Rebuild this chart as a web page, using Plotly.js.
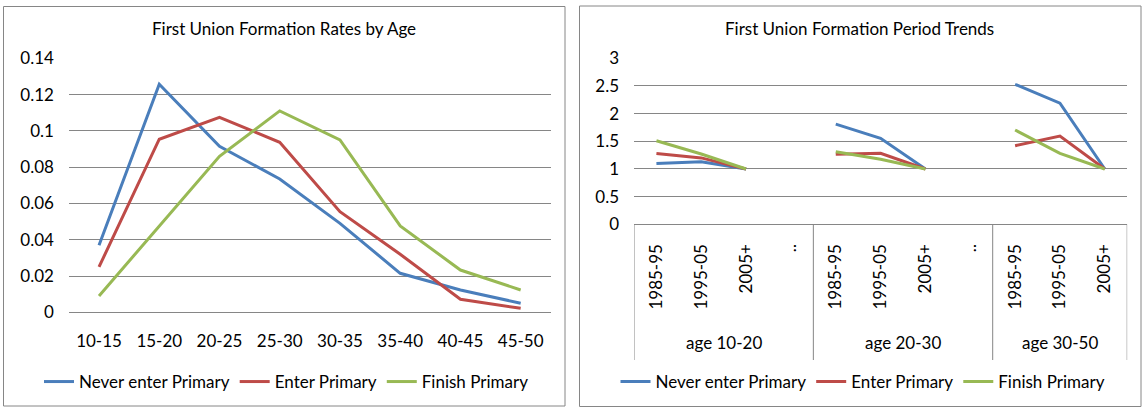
<!DOCTYPE html>
<html>
<head>
<meta charset="utf-8">
<script src="https://cdn.plot.ly/plotly-3.0.1.min.js"></script>
<style>
  html, body { margin: 0; padding: 0; background: #ffffff; }
  #chart { width: 1148px; height: 413px; }
</style>
</head>
<body>
<div id="chart"></div>
<script>
// ---------- data ----------
const ageLabels = ['10-15', '15-20', '20-25', '25-30', '30-35', '35-40', '40-45', '45-50'];
const rateNever  = [0.037, 0.1257, 0.0915, 0.0735, 0.049, 0.0215, 0.0123, 0.005];
const rateEnter  = [0.025, 0.0954, 0.1075, 0.0937, 0.0555, 0.032, 0.0072, 0.0022];
const rateFinish = [0.009, 0.0476, 0.086, 0.111, 0.095, 0.0476, 0.0233, 0.0123];

const periodLabels = ['1985-95', '1995-05', '2005+', '..', '1985-95', '1995-05', '2005+', '..', '1985-95', '1995-05', '2005+'];
const groupLabels = ['age 10-20', 'age 20-30', 'age 30-50'];
const groupSizes = [4, 4, 3];
const trendNever  = [1.10, 1.13, 1.00, null, 1.81, 1.555, 1.00, null, 2.53, 2.19, 1.00];
const trendEnter  = [1.28, 1.20, 1.00, null, 1.265, 1.283, 1.00, null, 1.42, 1.596, 1.00];
const trendFinish = [1.51, 1.27, 1.00, null, 1.313, 1.174, 1.00, null, 1.704, 1.283, 1.00];

const seriesNames = ['Never enter Primary', 'Enter Primary', 'Finish Primary'];

// ---------- styles ----------
const COLORS = ['#4A7EBB', '#BE4B48', '#98B954'];
const FONT = 'Lato, "Open Sans", sans-serif';
const GRID = '#868686';
const W = 1148, H = 413;
const px = v => v / W;
const py = v => 1 - v / H;

const periodIdx = periodLabels.map((_, i) => i);

const leftSeries = [rateNever, rateEnter, rateFinish];
const rightSeries = [trendNever, trendEnter, trendFinish];

const traces = [];
leftSeries.forEach((vals, k) => {
  traces.push({
    type: 'scatter', mode: 'lines', name: seriesNames[k],
    x: ageLabels, y: vals, xaxis: 'x', yaxis: 'y',
    line: { color: COLORS[k], width: 3 },
    legend: 'legend', hoverinfo: 'skip'
  });
});
rightSeries.forEach((vals, k) => {
  traces.push({
    type: 'scatter', mode: 'lines', name: seriesNames[k],
    x: periodIdx, y: vals, xaxis: 'x2', yaxis: 'y2',
    line: { color: COLORS[k], width: 3 },
    connectgaps: false,
    legend: 'legend2', hoverinfo: 'skip'
  });
});

const FS = 17;

// group dividers and labels (positions derived from group sizes)
const shapes = [];
const annotations = [];
let start = -0.5;
shapes.push({ type: 'line', xref: 'x2', yref: 'paper', x0: start, x1: start, y0: py(360), y1: py(224.3), line: { color: GRID, width: 1 } });
groupSizes.forEach((n, g) => {
  const end = start + n;
  shapes.push({ type: 'line', xref: 'x2', yref: 'paper', x0: end, x1: end, y0: py(360), y1: py(224.3), line: { color: GRID, width: 1 } });
  annotations.push({
    xref: 'x2', yref: 'paper', x: (start + end) / 2, y: py(342.7), text: groupLabels[g],
    showarrow: false, xanchor: 'center', yanchor: 'middle',
    font: { family: FONT, size: FS, color: '#000' }
  });
  start = end;
});

// panel borders
shapes.push({ type: 'rect', xref: 'paper', yref: 'paper', x0: px(3.5), x1: px(565), y0: py(406), y1: py(6.5), line: { color: GRID, width: 1 }, layer: 'below' });
shapes.push({ type: 'rect', xref: 'paper', yref: 'paper', x0: px(579.5), x1: px(1141), y0: py(406.5), y1: py(6), line: { color: GRID, width: 1 }, layer: 'below' });

// titles
annotations.push({
  xref: 'paper', yref: 'paper', x: px(283.5), y: py(28.5), text: 'First Union Formation Rates by Age',
  showarrow: false, xanchor: 'center', yanchor: 'middle', font: { family: FONT, size: 17, color: '#000' }
});
annotations.push({
  xref: 'paper', yref: 'paper', x: px(859.5), y: py(28.5), text: 'First Union Formation Period Trends',
  showarrow: false, xanchor: 'center', yanchor: 'middle', font: { family: FONT, size: 17, color: '#000' }
});

const tickFont = { family: FONT, size: FS, color: '#000' };
const legendBase = {
  orientation: 'h', xanchor: 'center', yanchor: 'middle', y: py(382),
  font: { family: FONT, size: FS, color: '#000' }, bgcolor: 'rgba(0,0,0,0)',
  itemwidth: 30, itemclick: false, itemdoubleclick: false
};

const layout = {
  width: W, height: H,
  margin: { l: 0, r: 0, t: 0, b: 0 },
  paper_bgcolor: '#ffffff', plot_bgcolor: '#ffffff',
  font: { family: FONT, color: '#000' },
  xaxis: {
    domain: [px(68.9), px(550.8)], anchor: 'y', type: 'category',
    range: [-0.5, ageLabels.length - 0.5],
    showgrid: false, zeroline: false, showline: true, linecolor: GRID, linewidth: 1,
    ticks: '', tickfont: tickFont, ticklabelstandoff: 13, fixedrange: true
  },
  yaxis: {
    domain: [py(312.3), py(58.3)], anchor: 'x', range: [0, 0.14], dtick: 0.02, tick0: 0,
    showgrid: true, gridcolor: GRID, gridwidth: 1, zeroline: false, showline: false,
    ticks: '', tickfont: tickFont, ticklabelstandoff: 14, fixedrange: true
  },
  xaxis2: {
    domain: [px(634), px(1127.2)], anchor: 'y2', range: [-0.5, periodLabels.length - 0.5],
    tickmode: 'array', tickvals: periodIdx, ticktext: periodLabels, tickangle: -90,
    showgrid: false, zeroline: false, showline: true, linecolor: GRID, linewidth: 1,
    ticks: '', tickfont: tickFont, ticklabelstandoff: 12, fixedrange: true
  },
  yaxis2: {
    domain: [py(224.3), py(58.3)], anchor: 'x2', range: [0, 3], dtick: 0.5, tick0: 0,
    showgrid: true, gridcolor: GRID, gridwidth: 1, zeroline: false, showline: false,
    ticks: '', tickfont: tickFont, ticklabelstandoff: 14, fixedrange: true
  },
  legend: Object.assign({}, legendBase, { x: px(286.5) }),
  legend2: Object.assign({}, legendBase, { x: px(863) }),
  shapes: shapes,
  annotations: annotations,
  showlegend: true
};

Plotly.newPlot('chart', traces, layout, { displayModeBar: false, staticPlot: true });
</script>
</body>
</html>
